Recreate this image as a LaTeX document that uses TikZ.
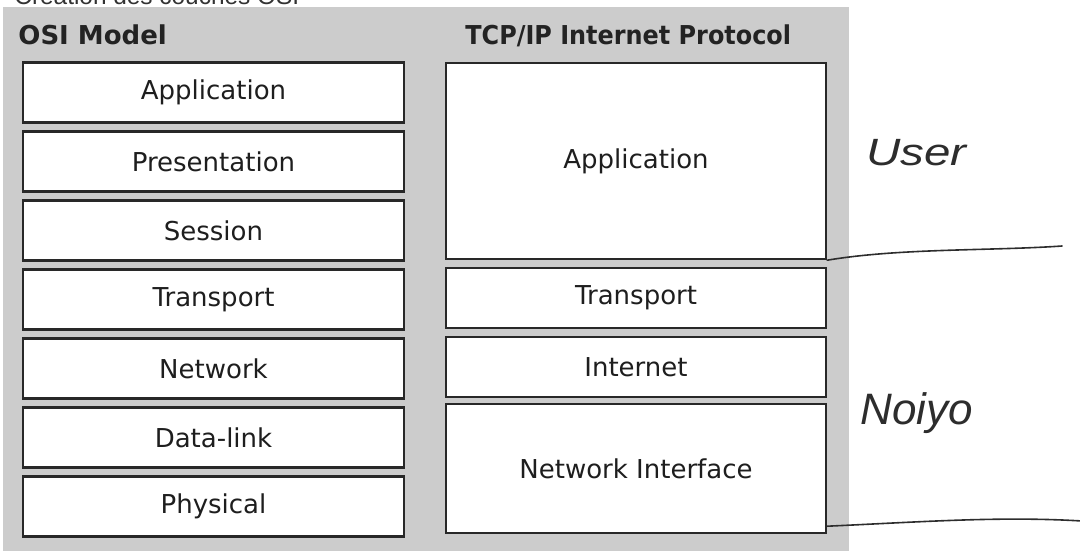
\documentclass[tikz,border=0pt]{standalone}
\usepackage{fontspec}
\setmainfont{DejaVu Sans}
\newfontfamily\titlefont{Liberation Sans}
\newfontfamily\handfont{Liberation Sans}
\definecolor{panelgray}{RGB}{204,204,204}
\definecolor{boxline}{RGB}{40,40,40}
\definecolor{boxtext}{RGB}{30,30,30}
\definecolor{headtext}{RGB}{35,35,35}
\definecolor{captext}{RGB}{50,50,50}
\definecolor{pen}{RGB}{45,45,45}
\begin{document}
\begin{tikzpicture}[x=0.5pt,y=-0.5pt,
  panel/.style={fill=panelgray, draw=none},
  layerbox/.style={draw=boxline, line width=1.2pt, fill=white, inner sep=0pt,
    minimum height=30pt, font=\fontsize{13}{15}\selectfont, text=boxtext},
  osibox/.style={layerbox, minimum width=190.5pt},
  tcpbox/.style={layerbox, minimum width=190pt},
  header/.style={anchor=base west, inner sep=0pt, font=\bfseries\fontsize{13}{15}\selectfont, text=headtext},
  handtext/.style={anchor=base west, inner sep=0pt, text=pen},
  handline/.style={draw=pen, line width=0.8pt, line cap=round}]
\useasboundingbox (0,0) rectangle (1080,551);
\clip (0,0) rectangle (1080,551);

% caption line above the panel (its upper half runs off the page)
\node[anchor=base west, inner sep=0pt, font=\titlefont\fontsize{12.2}{14}\selectfont, text=captext]
  (caption) at (14,5) {Création des couches OSI};

% shaded panel behind both stacks
\fill[panel] (3,7) rectangle (849,551);

% column headings
\node[header] (osihead) at (18,45) {OSI Model};
\node[header] (tcphead) at (465,45) {\scalebox{0.92}[1]{TCP/IP Internet Protocol}};

% OSI reference model, seven layers
\node[osibox] (osiapp)   at (213.5, 92.5) {Application};
\node[osibox] (osipres)  at (213.5,161.5) {Presentation};
\node[osibox] (osisess)  at (213.5,230.5) {Session};
\node[osibox] (ositrans) at (213.5,299.5) {Transport};
\node[osibox] (osinet)   at (213.5,368.5) {Network};
\node[osibox] (osidl)    at (213.5,437.5) {Data-link};
\node[osibox] (osiphys)  at (213.5,506.5) {Physical};

% TCP/IP stack, four layers
\node[tcpbox, minimum height=98pt]   (tcpapp)   at (636,161)   {Application};
\node[tcpbox]                        (tcptrans) at (636,298)   {Transport};
\node[tcpbox]                        (tcpinet)  at (636,367)   {Internet};
\node[tcpbox, minimum height=64.5pt] (tcpnet)   at (636,468.5) {Network Interface};

% hand-written annotations
\node[handtext, font=\handfont\itshape\fontsize{19}{22}\selectfont] (user) at (866,165)
  {\scalebox{1.25}[1]{User}};
\node[handtext, font=\handfont\itshape\fontsize{22}{26}\selectfont] (noiyo) at (860,424) {Noiyo};

\coordinate (userend)  at (1062,246);
\coordinate (noiyoend) at (1082,521);
\draw[handline] (tcpapp.south east) .. controls (900,248) and (990,251) .. (userend);
\draw[handline] ([yshift=4pt]tcpnet.south east) .. controls (920,522) and (1000,516) .. (noiyoend);
\end{tikzpicture}
\end{document}
